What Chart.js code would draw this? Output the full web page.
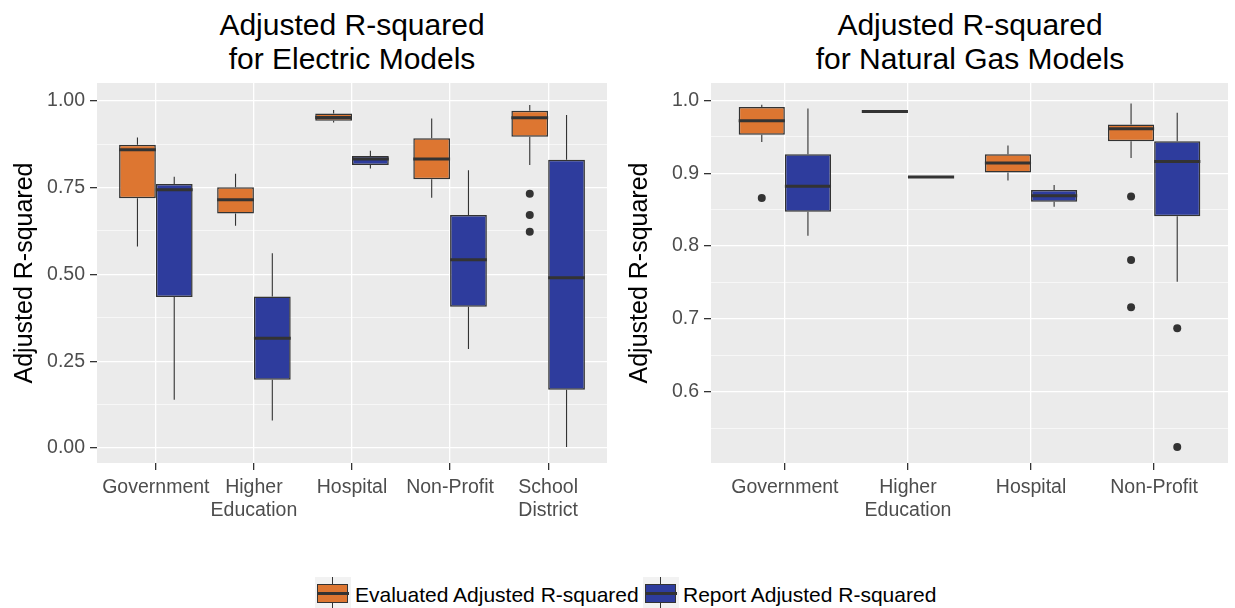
<!DOCTYPE html>
<html>
<head>
<meta charset="utf-8">
<script src="https://cdn.jsdelivr.net/npm/chart.js@4.4.0/dist/chart.umd.min.js"></script>
<style>
    body { margin: 0; background: #fff; font-family: "Liberation Sans", Arial, sans-serif; }
    #wrap { position: relative; width: 1235px; height: 608px; overflow: hidden; }
    .title { position: absolute; top: 8px; width: 500px; text-align: center; font-size: 30px; line-height: 34px; color: #000; }
    canvas { position: absolute; top: 0; }
    .key { position: absolute; top: 577px; width: 36px; height: 36px; background: #f2f2f2; }
    .key .whisk { position: absolute; left: 17px; width: 1.2px; top: 0; height: 36px; background: #333; }
    .key .box { position: absolute; left: 2px; top: 7px; width: 29px; height: 17px; border: 1.5px solid #333; }
    .key .med { position: absolute; left: 2px; top: 15px; width: 32px; height: 3px; background: #333; }
    .ltext { position: absolute; top: 583px; font-size: 21px; line-height: 24px; color: #000; white-space: nowrap; }
</style>
</head>
<body>
<div id="wrap">
    <div class="title" style="left:102px">Adjusted R-squared<br>for Electric Models</div>
    <div class="title" style="left:720px">Adjusted R-squared<br>for Natural Gas Models</div>
    <canvas id="elecChart" width="615" height="540" style="left:0"></canvas>
    <canvas id="gasChart" width="620" height="540" style="left:615px"></canvas>

    <div class="key" style="left:315px"><div class="whisk"></div><div class="box" style="background:#DD7631"></div><div class="med"></div></div>
    <div class="ltext" style="left:355px">Evaluated Adjusted R-squared</div>
    <div class="key" style="left:643px"><div class="whisk"></div><div class="box" style="background:#2E3C9D"></div><div class="med"></div></div>
    <div class="ltext" style="left:683px">Report Adjusted R-squared</div>
</div>
<script>
// categories
const elecCategories = ['Government', ['Higher', 'Education'], 'Hospital', 'Non-Profit', ['School', 'District']];
const gasCategories = ['Government', ['Higher', 'Education'], 'Hospital', 'Non-Profit'];

// box stats per category: [lower whisker, q1, median, q3, upper whisker]
const elecEvaluated = [
    [0.580, 0.719, 0.859, 0.873, 0.894],
    [0.640, 0.675, 0.715, 0.751, 0.790],
    [0.937, 0.942, 0.952, 0.963, 0.973],
    [0.721, 0.774, 0.832, 0.892, 0.949],
    [0.815, 0.896, 0.951, 0.971, 0.988]
];
const elecReport = [
    [0.139, 0.435, 0.744, 0.760, 0.781],
    [0.079, 0.197, 0.316, 0.436, 0.561],
    [0.805, 0.815, 0.832, 0.841, 0.856],
    [0.285, 0.407, 0.542, 0.671, 0.800],
    [0.003, 0.168, 0.490, 0.830, 0.959]
];
const elecEvaluatedOutliers = [[], [], [], [], [0.732, 0.671, 0.623]];
const elecReportOutliers = [[], [], [], [], []];

const gasEvaluated = [
    [0.943, 0.953, 0.972, 0.991, 0.994],
    [0.985, 0.985, 0.985, 0.985, 0.985],
    [0.890, 0.901, 0.914, 0.926, 0.938],
    [0.921, 0.944, 0.961, 0.967, 0.996]
];
const gasReport = [
    [0.814, 0.847, 0.882, 0.926, 0.989],
    [0.895, 0.895, 0.895, 0.895, 0.895],
    [0.854, 0.861, 0.869, 0.877, 0.884],
    [0.751, 0.841, 0.916, 0.944, 0.983]
];
const gasEvaluatedOutliers = [[0.866], [], [], [0.868, 0.781, 0.716]];
const gasReportOutliers = [[], [], [], [0.687, 0.524]];

// y grid (major get labels)
const elecMajorTicks = [0, 0.25, 0.5, 0.75, 1.0];
const elecMinorTicks = [0.125, 0.375, 0.625, 0.875];
const gasMajorTicks = [0.6, 0.7, 0.8, 0.9, 1.0];
const gasMinorTicks = [0.55, 0.65, 0.75, 0.85, 0.95];

const orange = '#DD7631';
const blue = '#2E3C9D';
const lineColor = '#333333';

// panel background, whiskers, medians and outliers
const boxExtras = {
    id: 'boxExtras',
    beforeDraw(chart) {
        const a = chart.chartArea;
        const ctx = chart.ctx;
        ctx.save();
        ctx.fillStyle = '#EBEBEB';
        ctx.fillRect(a.left, a.top, a.right - a.left, a.bottom - a.top);
        ctx.restore();
    },
    beforeDatasetsDraw(chart) {
        const ctx = chart.ctx;
        const y = chart.scales.y;
        ctx.save();
        ctx.strokeStyle = lineColor;
        ctx.lineWidth = 1.1;
        chart.data.datasets.forEach((ds, i) => {
            chart.getDatasetMeta(i).data.forEach((bar, j) => {
                const s = ds.stats[j];
                ctx.beginPath();
                ctx.moveTo(bar.x, y.getPixelForValue(s[0]));
                ctx.lineTo(bar.x, y.getPixelForValue(s[1]));
                ctx.moveTo(bar.x, y.getPixelForValue(s[3]));
                ctx.lineTo(bar.x, y.getPixelForValue(s[4]));
                ctx.stroke();
            });
        });
        ctx.restore();
    },
    afterDatasetsDraw(chart) {
        const ctx = chart.ctx;
        const y = chart.scales.y;
        ctx.save();
        chart.data.datasets.forEach((ds, i) => {
            chart.getDatasetMeta(i).data.forEach((bar, j) => {
                const s = ds.stats[j];
                const half = bar.width / 2;
                const my = y.getPixelForValue(s[2]);
                ctx.strokeStyle = lineColor;
                ctx.lineWidth = 3;
                ctx.beginPath();
                ctx.moveTo(bar.x - half, my);
                ctx.lineTo(bar.x + half, my);
                ctx.stroke();
                ctx.fillStyle = lineColor;
                ds.outliers[j].forEach(v => {
                    ctx.beginPath();
                    ctx.arc(bar.x, y.getPixelForValue(v), 4, 0, Math.PI * 2);
                    ctx.fill();
                });
            });
        });
        ctx.restore();
    }
};

function boxDataset(label, stats, outliers, color) {
    return {
        label: label,
        data: stats.map((s, i) => ({ x: i + 1, y: [s[1], s[3]] })),
        stats: stats,
        outliers: outliers,
        backgroundColor: color,
        borderColor: lineColor,
        borderWidth: 1.5,
        borderSkipped: false,
        categoryPercentage: 0.75,
        barPercentage: 1.0
    };
}

function makeChart(id, categories, evaluated, evalOut, report, repOut, yMin, yMax, majors, minors, digits, axisWidth, padRight) {
    const gridVals = minors.concat(majors).sort((a, b) => a - b);
    return new Chart(document.getElementById(id), {
        type: 'bar',
        data: {
            datasets: [
                boxDataset('Evaluated Adjusted R-squared', evaluated, evalOut, orange),
                boxDataset('Report Adjusted R-squared', report, repOut, blue)
            ]
        },
        options: {
            responsive: false,
            animation: false,
            layout: { padding: { top: 83, bottom: 17, left: 0, right: padRight } },
            plugins: {
                legend: { display: false },
                title: { display: false },
                tooltip: { enabled: false }
            },
            scales: {
                x: {
                    type: 'linear',
                    offset: false,
                    min: 0.4,
                    max: categories.length + 0.6,
                    afterBuildTicks: scale => {
                        scale.ticks = categories.map((c, i) => ({ value: i + 1 }));
                    },
                    afterFit: scale => { scale.height = 60; },
                    ticks: {
                        callback: value => categories[value - 1],
                        color: '#4D4D4D',
                        font: { family: 'Liberation Sans', size: 19.5 },
                        padding: 6,
                        maxRotation: 0,
                        autoSkip: false
                    },
                    grid: { offset: false, color: '#FFFFFF', lineWidth: 1.3, tickColor: lineColor, tickLength: 7 },
                    border: { display: false }
                },
                y: {
                    min: yMin,
                    max: yMax,
                    afterBuildTicks: scale => {
                        scale.ticks = gridVals.map(v => ({ value: v }));
                    },
                    afterFit: scale => { scale.width = axisWidth; },
                    ticks: {
                        callback: value => majors.includes(value) ? value.toFixed(digits) : '',
                        color: '#4D4D4D',
                        font: { family: 'Liberation Sans', size: 19.5 },
                        padding: 5
                    },
                    grid: {
                        color: '#FFFFFF',
                        lineWidth: ctx => majors.includes(ctx.tick.value) ? 1.3 : 0.6,
                        tickColor: ctx => majors.includes(ctx.tick.value) ? lineColor : 'rgba(0,0,0,0)',
                        tickLength: 7
                    },
                    border: { display: false },
                    title: {
                        display: true,
                        text: 'Adjusted R-squared',
                        color: '#000',
                        font: { family: 'Liberation Sans', size: 25 },
                        padding: { top: 10, bottom: 6 }
                    }
                }
            }
        },
        plugins: [boxExtras]
    });
}

makeChart('elecChart', elecCategories, elecEvaluated, elecEvaluatedOutliers, elecReport, elecReportOutliers,
    -0.043, 1.051, elecMajorTicks, elecMinorTicks, 2, 97, 8);
makeChart('gasChart', gasCategories, gasEvaluated, gasEvaluatedOutliers, gasReport, gasReportOutliers,
    0.502, 1.024, gasMajorTicks, gasMinorTicks, 1, 96, 7);
</script>
</body>
</html>
